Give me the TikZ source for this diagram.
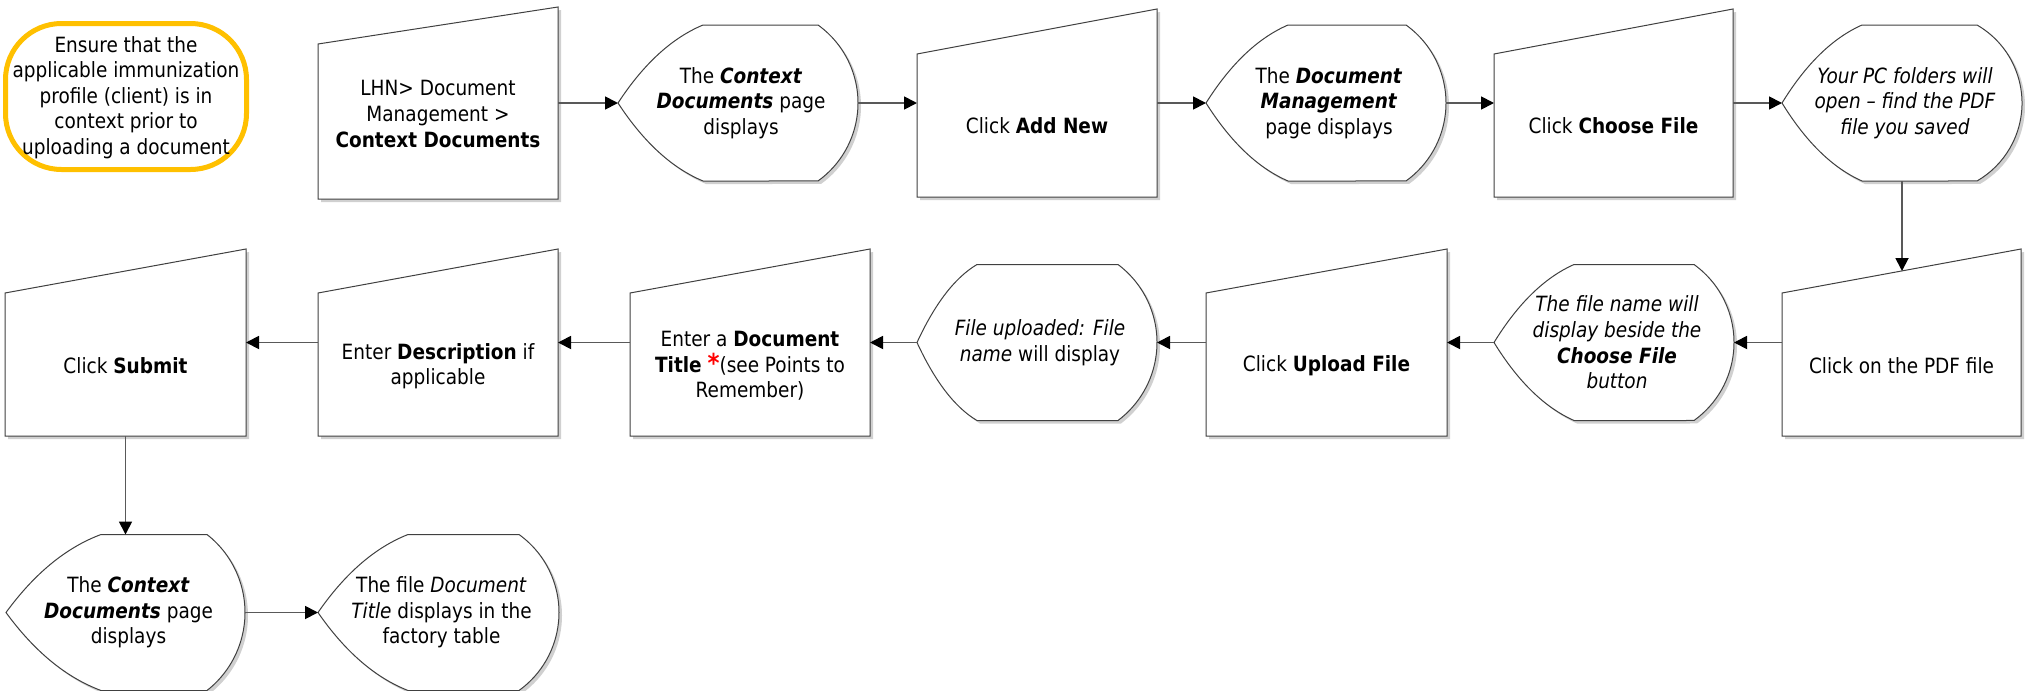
\documentclass[tikz,border=0pt]{standalone}
\usepackage{fontspec}
\setmainfont{DejaVu Sans}[FakeStretch=0.88]
\usetikzlibrary{arrows.meta,calc,fit}

\definecolor{gold}{HTML}{FFC000}
\definecolor{outline}{HTML}{404040}
\definecolor{linkgray}{HTML}{595959}
\definecolor{shadowc}{HTML}{D0D0D0}

\tikzset{
  txt/.style={align=center, inner sep=0pt, font=\fontsize{10.5}{12.8}\selectfont, text=black},
  shapeline/.style={draw=outline, line width=0.5pt, fill=white},
  shadowfill/.style={fill=shadowc, draw=none},
  conn/.style={draw=linkgray, line width=0.9pt, -{Triangle[length=6.5pt,width=6.5pt,color=black]}},
  frame/.style={inner sep=0pt, outer sep=0pt},
  notebox/.style={draw=gold, line width=2.5pt, rounded corners=28pt}
}

% manual input step: name, x left, x right, y top-right, y top-left, y bottom, text y, text
\newcommand{\mibox}[8]{%
  \fill[shadowfill, shift={(3,3)}] (#2,#5) -- (#3,#4) -- (#3,#6) -- (#2,#6) -- cycle;
  \draw[shapeline] (#2,#5) -- (#3,#4) -- (#3,#6) -- (#2,#6) -- cycle;
  \node[frame, fit={(#2,#4) (#3,#6)}] (#1) {};
  \coordinate (#1-top) at ($(#2,#5)!0.5!(#3,#4)$);
  \node[txt] (#1-text) at ({(#2+#3)/2},#7) {#8};
}

% display shape: name, x left (tip), x right, y centre, run of left curve, right bulge, text
\newcommand{\dispshape}[7]{%
  \pgfmathsetmacro\dispr{(#6*#6+78*78)/(2*#6)}%
  \pgfmathsetmacro\dispang{asin(78/\dispr)}%
  \fill[shadowfill, shift={(3,3)}] (#2,#4)
    .. controls ({#2+0.3*#5},{#4-39}) and ({#2+0.633*#5},{#4-65}) .. ({#2+#5},{#4-78})
    -- ({#3-#6},{#4-78}) arc[start angle=-\dispang, end angle=\dispang, radius=\dispr]
    -- ({#2+#5},{#4+78})
    .. controls ({#2+0.633*#5},{#4+65}) and ({#2+0.3*#5},{#4+39}) .. (#2,#4) -- cycle;
  \draw[shapeline] (#2,#4)
    .. controls ({#2+0.3*#5},{#4-39}) and ({#2+0.633*#5},{#4-65}) .. ({#2+#5},{#4-78})
    -- ({#3-#6},{#4-78}) arc[start angle=-\dispang, end angle=\dispang, radius=\dispr]
    -- ({#2+#5},{#4+78})
    .. controls ({#2+0.633*#5},{#4+65}) and ({#2+0.3*#5},{#4+39}) .. (#2,#4) -- cycle;
  \node[frame, fit={(#2,{#4-78}) (#3,{#4+78})}] (#1) {};
  \node[txt] (#1-text) at ({(#2+#3)/2+3},#4) {#7};
}

\begin{document}
\begin{tikzpicture}[x=0.5pt, y=-0.5pt]
\useasboundingbox (0,0) rectangle (2025,691);

% reminder note
\draw[notebox] (5.5,23.5) rectangle (246.5,169.5);
\node[txt] (note) at (126,97.5) {Ensure that the\\applicable immunization\\profile (client) is in\\context prior to\\uploading a document};

% first row
\mibox{t1}{318}{558}{7}{44}{199}{114}{LHN> Document\\Management >\\\textbf{Context Documents}}
\dispshape{d1}{618}{858}{103}{85}{40}{The \textbf{\textit{Context}}\\\textbf{\textit{Documents}} page\\displays}
\mibox{t2}{917}{1157}{9}{54}{197}{126}{Click \textbf{Add New}}
\dispshape{d2}{1206}{1446}{103}{82}{40}{The \textbf{\textit{Document}}\\\textbf{\textit{Management}}\\page displays}
\mibox{t3}{1494}{1733}{9}{54}{197}{126}{Click \textbf{Choose File}}
\dispshape{d3}{1782}{2022}{103}{80}{45}{\textit{Your PC folders will}\\\textit{open – find the PDF}\\\textit{file you saved}}

% second row
\mibox{t4}{1782}{2021}{249}{293}{436}{366}{Click on the PDF file}
\dispshape{d4}{1494}{1734}{342.5}{80}{40}{\textit{The file name will}\\\textit{display beside the}\\\textbf{\textit{Choose File}}\\\textit{button}}
\mibox{t5}{1206}{1447}{249}{293}{436}{366}{Click \textbf{Upload File}}
\dispshape{d5}{917}{1157}{342.5}{60}{39}{\textit{File uploaded: File}\\\textit{name} will display}
\mibox{t6}{630}{870}{249}{293}{436}{366}{Enter a \textbf{Document}\\\textbf{Title} {\color{red}\fontsize{13}{12.8}\selectfont\bfseries *}(see Points to\\Remember)}
\mibox{t7}{318}{558}{249}{293}{436}{366}{Enter \textbf{Description} if\\applicable}
\mibox{t8}{5}{246}{249}{293}{436}{366}{Click \textbf{Submit}}

% third row
\dispshape{d6}{6}{245}{612.5}{95}{38}{The \textbf{\textit{Context}}\\\textbf{\textit{Documents}} page\\displays}
\dispshape{d7}{318}{559}{612.5}{90}{40}{The file \textit{Document}\\\textit{Title} displays in the\\factory table}

% connectors
\draw[conn] (t1.east) -- (d1.west);
\draw[conn] (d1.east) -- (t2.west);
\draw[conn] (t2.east) -- (d2.west);
\draw[conn] (d2.east) -- (t3.west);
\draw[conn] (t3.east) -- (d3.west);
\draw[conn] (d3.south) -- (d3.south |- t4-top);
\draw[conn] (t4.west) -- (d4.east);
\draw[conn] (d4.west) -- (t5.east);
\draw[conn] (t5.west) -- (d5.east);
\draw[conn] (d5.west) -- (t6.east);
\draw[conn] (t6.west) -- (t7.east);
\draw[conn] (t7.west) -- (t8.east);
\draw[conn] (t8.south) -- (d6.north);
\draw[conn] (d6.east) -- (d7.west);
\end{tikzpicture}
\end{document}
